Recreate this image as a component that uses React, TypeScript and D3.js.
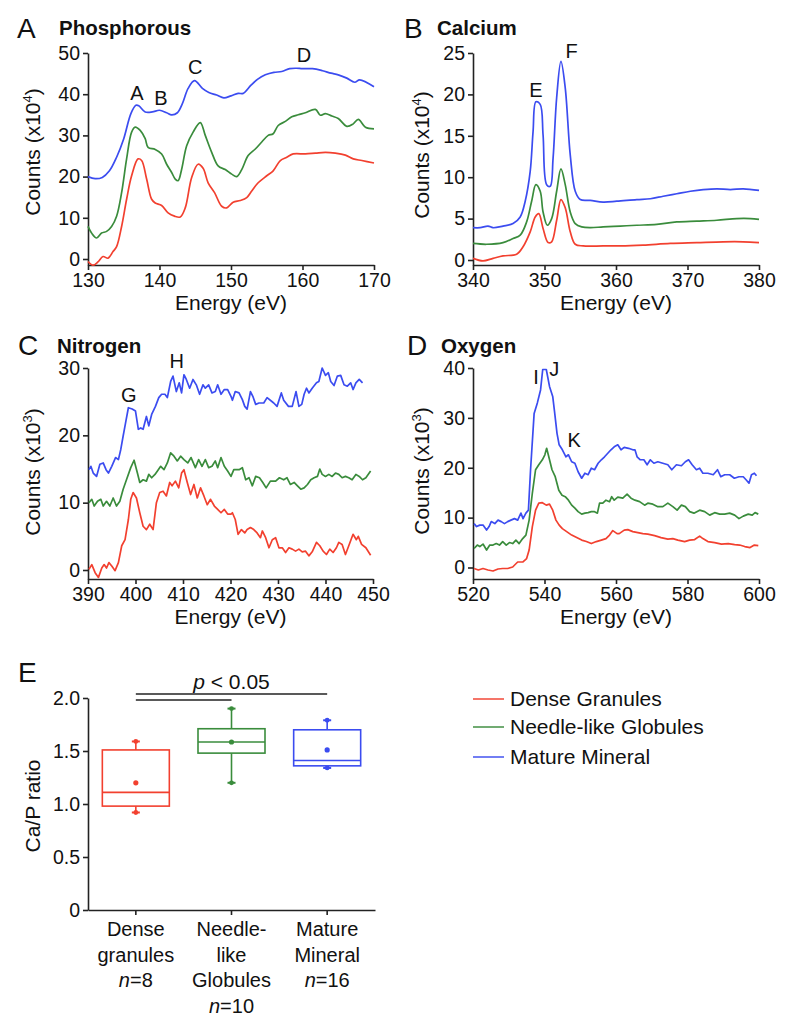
import React, { useEffect, useRef } from "react";
import * as d3 from "d3";

type Pt = [number, number];

// ---------- Series meta ----------
const seriesNames = ["Dense Granules", "Needle-like Globules", "Mature Mineral"];
const seriesColors = ["#f2402f", "#3a8c3c", "#3b4cf0"];

// ---------- Panel A: Phosphorous (x10^4) ----------
const phosDense: Pt[] = [[130,-0.6],[130.7,-1.5],[131.4,-0.7],[132.1,0.6],[132.8,0.2],[133.5,1.8],[134,3.0],[134.7,7.9],[135.4,14.5],[136.1,20.2],[137,24.3],[137.5,23.9],[138.2,19.4],[138.9,14.5],[139.4,13.6],[140.3,13.0],[141.2,11.2],[142.1,10.4],[142.9,10.2],[143.6,12.4],[144.5,19.8],[145.4,23.0],[146.1,22.0],[146.8,18.5],[147.7,16.1],[148.7,12.8],[149.4,12.4],[150.3,13.8],[151.3,14.2],[152.2,14.9],[152.9,16.5],[153.8,18.5],[155,20.2],[155.9,21.4],[156.9,23.9],[157.8,24.7],[158.7,25.5],[160.4,25.5],[161.8,25.7],[163.2,25.9],[164.6,25.7],[166,25.2],[167.1,24.3],[168.3,23.9],[170,23.3]];
const phosNeedle: Pt[] = [[130,7.9],[130.5,6.3],[131.2,5.1],[131.9,6.3],[132.6,6.7],[133.3,7.9],[134,10.4],[134.7,16.1],[135.4,24.3],[136.1,30.8],[136.6,32.0],[137.3,31.2],[138,29.2],[138.4,27.1],[139.4,26.6],[140.3,25.5],[141,23.0],[141.7,21.0],[142.2,19.4],[142.6,19.0],[143.1,21.8],[143.8,27.5],[144.7,30.8],[145.7,33.1],[146.4,30.0],[147.3,25.9],[148.2,22.6],[149.2,21.7],[150.1,20.6],[150.8,20.0],[151.5,21.7],[152.4,25.1],[153.4,26.7],[154.3,28.4],[155.2,30.0],[155.9,30.4],[156.6,32.4],[157.6,33.4],[158.5,34.5],[159.4,35.0],[160.4,35.5],[161.8,36.3],[162.5,34.9],[163.2,35.3],[164.1,34.7],[165,34.1],[166.2,32.2],[167.1,32.8],[167.8,33.9],[168.8,32.0],[170,31.6]];
const phosMature: Pt[] = [[130,20.0],[131,19.5],[132,19.8],[133,21.4],[134,24.7],[135,29.2],[136,35.3],[136.7,37.3],[137.1,37.2],[138,35.7],[139,35.7],[140,36.1],[141,35.5],[141.7,35.0],[142.5,35.5],[143.2,37.7],[144,41.4],[144.9,43.3],[146,41.4],[146.9,40.4],[148,39.8],[149,39.1],[150,39.6],[151,40.2],[151.7,40.2],[152.8,42.2],[153.7,43.6],[154.8,44.7],[156,45.3],[157.1,45.5],[158.2,46.2],[159.1,46.3],[160,46.2],[161.4,46.2],[162.8,45.7],[164,45.1],[165,44.7],[166.2,43.9],[167.3,42.9],[168,43.5],[170,41.8]];
const phosXTicks = [130, 140, 150, 160, 170];
const phosYTicks = [0, 10, 20, 30, 40, 50];
const phosPeaks: [string, number, number][] = [["A",136.85,38.6],["B",140.2,37.4],["C",145,44.9],["D",160.2,47.8]];

// ---------- Panel B: Calcium (x10^4) ----------
const calDense: Pt[] = [[340,0.2],[341.4,-0.1],[342.8,0.2],[344.2,0.5],[346.1,0.7],[347,1.6],[348,3.4],[348.7,5.2],[349.2,5.6],[349.8,3.8],[350.5,2.1],[351,2.2],[351.7,4.8],[352.3,7.3],[352.9,6.3],[353.6,3.4],[354.3,1.9],[355.4,1.7],[358.2,1.7],[360.6,1.7],[363.8,1.8],[367.6,2.0],[371.3,2.1],[375,2.2],[377.8,2.2],[380,2.1]];
const calNeedle: Pt[] = [[340,2.0],[341.9,1.9],[344.2,2.1],[345.6,2.6],[346.6,3.0],[347.5,4.6],[348.2,7.1],[348.8,9.1],[349.4,8.3],[349.8,5.8],[350.4,4.2],[351,5.0],[351.7,8.3],[352.3,11.0],[352.9,9.1],[353.6,5.8],[354.3,4.4],[355.2,4.0],[356.4,3.9],[358.2,4.0],[360.6,4.1],[362.9,4.2],[365.7,4.3],[368.5,4.6],[371.3,4.7],[374.1,4.8],[376.9,5.0],[378.8,5.0],[380,4.9]];
const calMature: Pt[] = [[340,3.9],[341,3.9],[342.1,4.1],[342.8,3.9],[344.2,4.1],[345.6,4.4],[346.6,5.2],[347.3,7.1],[348,10.7],[348.4,15.5],[348.8,19.1],[349.4,18.8],[349.8,15.1],[350.3,9.1],[350.8,8.9],[351.2,12.3],[351.7,19.6],[352.3,24.0],[352.9,20.8],[353.6,12.7],[354.3,8.3],[355,7.3],[356.4,7.2],[358.2,7.0],[360.1,7.1],[362.9,7.3],[364.8,7.4],[366.6,7.7],[368.5,8.0],[370.4,8.3],[372.2,8.5],[374.1,8.6],[376,8.5],[377.8,8.6],[380,8.4]];
const calXTicks = [340, 350, 360, 370, 380];
const calYTicks = [0, 5, 10, 15, 20, 25];
const calPeaks: [string, number, number][] = [["E",348.8,19.7],["F",353.8,24.4]];

// ---------- Panel C: Nitrogen (x10^3) ----------
const nitDense: Pt[] = [[390.2,0.1],[390.8,0.8],[391.5,-0.4],[392.2,-1.1],[392.9,0.3],[393.4,0.8],[393.9,0.3],[394.4,1.1],[395,0.6],[395.7,-0.1],[396.4,1.1],[397.1,3.6],[397.8,4.5],[398.5,7.5],[399,10.5],[399.5,11.5],[400.2,10.7],[400.9,8.5],[401.6,6.5],[402.3,6.0],[403,6.8],[403.7,6.0],[404.4,10.0],[405.1,11.5],[405.8,11.7],[406.5,11.0],[407.2,13.0],[407.7,12.5],[408.4,13.2],[409.1,12.2],[409.7,14.4],[410.2,14.9],[410.9,13.0],[411.6,11.2],[412.3,12.7],[413,10.7],[413.7,12.2],[414.4,11.0],[415.1,9.7],[415.8,10.5],[416.6,9.5],[417.3,9.0],[418,8.5],[418.7,9.0],[419.4,8.3],[420.1,8.3],[420.4,8.5],[421,7.5],[421.6,5.3],[422.3,6.0],[423,5.5],[423.5,6.0],[424.2,6.3],[424.9,6.0],[425.6,5.5],[426.3,4.8],[426.7,5.8],[427.4,4.8],[428.1,3.3],[428.8,4.5],[429.5,4.8],[430.2,3.3],[430.9,3.3],[431.6,2.6],[432.3,3.3],[433,3.1],[433.7,2.8],[434.4,3.1],[435.1,2.7],[435.8,2.8],[436.5,2.1],[437.2,2.7],[438.1,4.1],[438.8,3.6],[439.5,2.8],[440.2,2.3],[440.9,3.1],[441.6,2.6],[442.3,3.3],[442.8,4.1],[443.5,3.8],[444.2,2.3],[444.9,3.6],[445.8,5.3],[446.5,4.5],[446.9,5.0],[447.6,3.8],[448.5,3.3],[449.5,2.2]];
const nitNeedle: Pt[] = [[390.2,10.0],[390.8,10.5],[391.3,9.5],[392,10.2],[392.7,10.5],[393.2,9.5],[393.9,10.2],[394.6,9.5],[395.3,10.7],[396,9.5],[396.7,10.2],[397.4,12.0],[398.1,13.4],[399,15.2],[399.7,16.3],[400.4,14.4],[400.9,13.0],[401.6,13.4],[402.3,13.2],[402.8,14.2],[403.4,13.7],[404.1,14.2],[404.8,14.9],[405.3,15.4],[406,14.9],[406.7,15.9],[407.4,17.4],[408.1,16.9],[408.8,16.2],[409.5,16.9],[410.2,16.4],[411,15.9],[411.7,16.7],[412.6,15.2],[413.3,16.4],[414,15.4],[414.7,16.4],[415.4,15.2],[416.1,15.4],[416.8,16.2],[417.3,15.2],[418,16.7],[418.7,15.4],[419.4,14.7],[420.1,13.9],[420.7,14.9],[421.8,14.9],[422.5,15.2],[423.2,13.4],[423.9,13.7],[424.6,12.5],[425.3,13.9],[426.1,13.7],[426.8,13.0],[427.5,12.2],[428.4,13.2],[429.5,13.2],[430.3,13.7],[431.2,13.4],[431.9,13.7],[432.6,12.7],[433.4,13.0],[434.1,12.5],[434.8,12.0],[435.5,12.2],[436.2,12.7],[436.9,13.4],[437.6,13.7],[438.3,13.9],[438.8,15.0],[439.3,14.2],[440,13.9],[440.7,14.2],[441.4,13.9],[442.1,14.4],[442.8,14.2],[443.5,13.7],[444.2,13.9],[444.9,13.7],[445.6,13.4],[446.4,14.2],[447.1,13.9],[447.8,13.4],[448.5,13.7],[449.2,14.4],[449.5,14.7]];
const nitMature: Pt[] = [[390.2,14.9],[390.6,15.4],[391.1,14.4],[391.8,13.9],[392.5,15.7],[393.2,15.9],[393.8,14.9],[394.3,14.4],[395,15.4],[395.8,16.7],[396.4,16.4],[396.9,17.9],[397.4,19.9],[397.9,21.8],[398.5,24.1],[399.3,23.9],[400,23.6],[400.6,20.9],[401.1,21.1],[401.6,20.9],[402.3,22.8],[402.8,21.4],[403.4,23.1],[404.2,24.3],[404.9,25.6],[405.5,26.1],[406.2,26.1],[406.7,25.6],[407.4,28.0],[407.9,28.8],[408.6,26.5],[409.2,27.8],[409.7,26.3],[410.2,29.0],[410.7,28.3],[411.4,27.0],[412.1,28.3],[412.8,27.5],[413.5,26.1],[414.2,27.5],[414.7,27.0],[415.4,27.5],[416.1,26.3],[416.8,26.5],[417.3,27.5],[418,26.1],[418.7,26.8],[419.4,26.8],[420.1,25.8],[420.4,25.2],[421,26.5],[421.8,26.3],[422.5,25.3],[423,24.3],[423.5,23.9],[424.2,26.5],[424.7,25.8],[425.3,24.6],[426,24.8],[427,24.8],[427.7,25.6],[429.1,24.8],[429.8,24.3],[430.7,26.3],[431.2,25.2],[432.2,24.3],[433,24.3],[433.8,26.5],[434.4,24.3],[435,24.6],[435.5,26.1],[436,27.0],[436.5,26.3],[437.2,27.0],[438.1,27.8],[438.6,28.0],[439.3,30.0],[440,28.9],[440.6,29.3],[441.1,28.0],[441.8,27.4],[442.5,28.8],[443.2,28.9],[443.9,27.5],[444.6,27.3],[445.3,27.8],[445.8,26.8],[446.4,27.8],[447.1,28.3],[447.8,27.8]];
const nitXTicks = [390, 400, 410, 420, 430, 440, 450];
const nitYTicks = [0, 10, 20, 30];
const nitPeaks: [string, number, number][] = [["G",398.6,25.0],["H",408.7,30.0]];

// ---------- Panel D: Oxygen (x10^3) ----------
const oxyDense: Pt[] = [[520.3,-0.2],[521.5,-0.5],[522.8,-0.2],[524.2,-0.5],[525.6,-0.7],[527,-0.3],[528.3,-0.2],[529.7,-0.2],[531.1,0.1],[532.5,1.1],[533.9,1.1],[535,1.8],[535.7,3.5],[536.6,8.2],[537.5,11.5],[538.4,12.9],[539.4,13.0],[540.5,12.5],[541.4,12.7],[542.3,11.5],[543.2,9.5],[544.1,8.5],[545,7.8],[546.2,7.2],[547.6,6.5],[549,6.0],[550.4,5.5],[551.7,5.2],[553.1,4.8],[554.5,5.2],[555.9,5.5],[557.2,5.8],[558.2,6.5],[559.1,7.4],[560.3,6.8],[560.9,6.8],[562.3,7.5],[563.3,7.6],[564.7,7.2],[566.1,7.0],[567.5,6.8],[568.9,6.7],[570.8,6.4],[572.6,6.0],[574.5,5.7],[575.9,5.8],[577.3,5.5],[579.2,5.2],[580.6,5.5],[582,5.6],[583.4,6.3],[584.3,5.8],[585.7,5.2],[587.6,5.0],[589.5,4.7],[591.4,4.8],[593.2,4.6],[594.6,4.5],[596,4.2],[597.5,4.0],[598.7,4.5],[599.8,4.4]];
const oxyNeedle: Pt[] = [[520.3,3.8],[521.2,4.5],[521.9,4.2],[522.8,4.7],[523.8,3.5],[524.7,4.5],[525.6,4.5],[526.5,4.8],[527.4,4.5],[528.3,5.2],[529.3,4.5],[530.2,5.0],[531.1,4.8],[532,5.5],[532.9,4.8],[533.9,5.8],[534.8,6.5],[535.7,9.5],[536.6,14.9],[537.5,19.6],[538.4,20.6],[539.4,21.6],[540.1,22.6],[540.6,23.9],[541.2,22.2],[542.1,19.6],[543,18.2],[544,15.5],[544.9,14.5],[545.8,14.2],[546.7,13.5],[547.6,12.5],[548.5,11.9],[549.4,11.2],[550.4,10.7],[551.3,10.9],[552.2,11.0],[553.1,11.2],[554,11.2],[554.8,10.9],[555.4,12.9],[556.3,12.9],[557.2,13.5],[558.2,13.2],[558.8,14.2],[559.5,13.5],[560.5,14.1],[561.9,13.9],[563.1,14.7],[564.2,13.9],[565.3,13.5],[566.6,13.2],[568,12.5],[568.9,12.9],[570.3,12.7],[571.7,12.2],[573.1,12.2],[574.5,12.9],[575.9,12.2],[577.1,11.5],[578.3,12.5],[579.4,12.2],[580.6,11.2],[581.8,10.9],[583.4,11.5],[584.8,11.2],[586.2,10.5],[587.6,11.0],[589,10.7],[590.4,10.7],[591.8,10.9],[593.2,10.5],[594.4,9.8],[595.6,10.3],[597,10.7],[598.1,10.5],[598.9,11.0],[599.8,10.7]];
const oxyMature: Pt[] = [[520.3,8.8],[521,8.2],[521.9,8.5],[522.8,8.5],[523.8,7.5],[524.5,8.2],[525.1,9.2],[526.1,8.8],[527,9.5],[527.9,9.2],[528.8,8.8],[529.7,9.2],[530.6,9.5],[531.6,9.8],[532.5,9.5],[533.4,10.9],[534,9.8],[534.8,10.9],[535.5,11.5],[536.1,19.6],[537.1,30.9],[538,33.0],[538.9,35.6],[539.5,39.7],[540.5,39.7],[541.4,36.3],[542.3,34.3],[542.8,31.3],[543.5,26.9],[544.1,24.6],[545,23.6],[546,22.2],[546.7,22.6],[547.6,21.2],[548.5,20.9],[549.4,19.2],[550.4,17.9],[551.3,18.9],[552.2,18.6],[553.1,19.9],[554,19.6],[555,20.9],[555.9,21.6],[556.8,22.2],[557.7,22.9],[558.6,23.6],[559.5,24.2],[560.5,24.6],[561.4,23.6],[562.3,24.1],[563.5,23.9],[564.7,23.6],[565.3,23.6],[565.9,22.2],[566.8,21.6],[567.8,21.6],[568.7,20.6],[569.6,21.6],[570.6,20.9],[571.7,21.2],[573.1,20.9],[574.5,20.6],[575.6,19.6],[576.9,20.6],[578.3,20.4],[579.4,21.2],[580.3,21.6],[581.3,20.6],[582.5,19.6],[583.4,19.9],[584.3,18.9],[585.7,18.9],[587.2,18.6],[588.4,19.6],[589.3,18.2],[590.4,18.6],[591.8,18.6],[593.1,17.9],[594.4,18.2],[595.6,18.2],[596.5,17.5],[597.2,16.9],[597.9,18.6],[598.7,18.9],[599.3,18.4]];
const oxyXTicks = [520, 540, 560, 580, 600];
const oxyYTicks = [0, 10, 20, 30, 40];
const oxyPeaks: [string, number, number][] = [["I",537.6,36.8],["J",542.7,38.3],["K",548.3,24.2]];

// ---------- Panel E: Ca/P ratio box plot ----------
const boxCategories = ["Dense granules", "Needle-like Globules", "Mature Mineral"];
const boxLabelLines = [["Dense", "granules"], ["Needle-", "like", "Globules"], ["Mature", "Mineral"]];
const boxN = [8, 10, 16];
const boxWhiskerLow = [0.92, 1.2, 1.34];
const boxQ1 = [0.98, 1.48, 1.36];
const boxMedian = [1.11, 1.585, 1.41];
const boxQ3 = [1.51, 1.71, 1.7];
const boxWhiskerHigh = [1.59, 1.9, 1.79];
const boxMean = [1.2, 1.585, 1.51];
const ratioTicks = [0, 0.5, 1.0, 1.5, 2.0];

const FONT = "'Liberation Sans', Arial, Helvetica, sans-serif";

interface PanelCfg {
  letter: string;
  title: string;
  series: Pt[][];
  xDomain: [number, number];
  xTicks: number[];
  yTicks: number[];
  yTop: number;
  exp: string;
  peaks: [string, number, number][];
  left: number; right: number; yZero: number; yTopPx: number; axisY: number;
  curve: any;
  lblX: number; lblY: number;
  letterX: number; letterY: number; titleX: number; titleY: number;
}

const panels: PanelCfg[] = [
  { letter: "A", title: "Phosphorous", series: [phosDense, phosNeedle, phosMature], xDomain: [130, 170], xTicks: phosXTicks, yTicks: phosYTicks, yTop: 50, exp: "4", peaks: phosPeaks,
    left: 88, right: 374, yZero: 259, yTopPx: 53, axisY: 265, curve: d3.curveCatmullRom, lblX: 33, lblY: 152, letterX: 17, letterY: 38, titleX: 59, titleY: 35 },
  { letter: "B", title: "Calcium", series: [calDense, calNeedle, calMature], xDomain: [340, 380], xTicks: calXTicks, yTicks: calYTicks, yTop: 25, exp: "4", peaks: calPeaks,
    left: 473, right: 759, yZero: 260, yTopPx: 53, axisY: 265, curve: d3.curveCatmullRom, lblX: 422, lblY: 155, letterX: 404, letterY: 38, titleX: 437, titleY: 35 },
  { letter: "C", title: "Nitrogen", series: [nitDense, nitNeedle, nitMature], xDomain: [390, 450], xTicks: nitXTicks, yTicks: nitYTicks, yTop: 30, exp: "3", peaks: nitPeaks,
    left: 88, right: 373, yZero: 570, yTopPx: 368, axisY: 579, curve: d3.curveLinear, lblX: 33, lblY: 472, letterX: 18, letterY: 355, titleX: 57, titleY: 353 },
  { letter: "D", title: "Oxygen", series: [oxyDense, oxyNeedle, oxyMature], xDomain: [520, 600], xTicks: oxyXTicks, yTicks: oxyYTicks, yTop: 40, exp: "3", peaks: oxyPeaks,
    left: 473, right: 759, yZero: 567.5, yTopPx: 368, axisY: 579, curve: d3.curveLinear, lblX: 422, lblY: 471, letterX: 407, letterY: 355, titleX: 441, titleY: 353 },
];

function styleAxis(g: d3.Selection<SVGGElement, unknown, null, undefined>) {
  g.select(".domain").attr("stroke", "#222").attr("stroke-width", 1.6);
  g.selectAll(".tick line").attr("stroke", "#222").attr("stroke-width", 1.6);
  g.selectAll(".tick text").attr("fill", "#111").style("font-family", FONT).style("font-size", "19.5px");
}

export default function App() {
  const ref = useRef<SVGSVGElement | null>(null);

  useEffect(() => {
    document.body.style.margin = "0";
    const svg = d3.select(ref.current);
    svg.selectAll("*").remove();
    svg.append("rect").attr("width", 800).attr("height", 1029).attr("fill", "#fff");

    panels.forEach((p) => {
      const g = svg.append("g");
      const x = d3.scaleLinear().domain(p.xDomain).range([p.left, p.right]);
      const yBase = d3.scaleLinear().domain([0, p.yTop]).range([p.yZero, p.yTopPx]);
      const yMin = yBase.invert(p.axisY);
      const y = d3.scaleLinear().domain([yMin, p.yTop]).range([p.axisY, p.yTopPx]);

      const xa = g.append("g").attr("transform", `translate(0,${p.axisY})`)
        .call(d3.axisBottom(x).tickValues(p.xTicks).tickSize(5).tickSizeOuter(0).tickPadding(3).tickFormat(d3.format("d")));
      styleAxis(xa);
      const ya = g.append("g").attr("transform", `translate(${p.left},0)`)
        .call(d3.axisLeft(y).tickValues(p.yTicks).tickSize(5).tickSizeOuter(0).tickPadding(3).tickFormat(d3.format("d")));
      styleAxis(ya);

      const line = d3.line<Pt>().x((d) => x(d[0])).y((d) => y(d[1])).curve(p.curve);
      p.series.forEach((s, i) => {
        g.append("path").attr("d", line(s) as string).attr("fill", "none")
          .attr("stroke", seriesColors[i]).attr("stroke-width", 1.7).attr("stroke-linejoin", "round");
      });

      p.peaks.forEach(([t, px, py]) => {
        g.append("text").attr("x", x(px)).attr("y", y(py)).attr("text-anchor", "middle")
          .style("font-family", FONT).style("font-size", "20px").attr("fill", "#111").text(t);
      });

      // letter + title
      g.append("text").attr("x", p.letterX).attr("y", p.letterY).style("font-family", FONT)
        .style("font-size", "28px").attr("fill", "#111").text(p.letter);
      g.append("text").attr("x", p.titleX).attr("y", p.titleY).style("font-family", FONT)
        .style("font-size", "20.5px").style("font-weight", "bold").attr("fill", "#111").text(p.title);

      // x label
      g.append("text").attr("x", (p.left + p.right) / 2).attr("y", p.axisY + 45).attr("text-anchor", "middle")
        .style("font-family", FONT).style("font-size", "21px").attr("fill", "#111").text("Energy (eV)");

      // y label
      const yl = g.append("text").attr("transform", `translate(${p.lblX},${p.lblY}) rotate(-90)`)
        .attr("text-anchor", "middle").attr("dy", "0.35em")
        .style("font-family", FONT).style("font-size", "21px").attr("fill", "#111");
      yl.append("tspan").text("Counts (x10");
      yl.append("tspan").attr("dy", -8).style("font-size", "13px").text(p.exp);
      yl.append("tspan").attr("dy", 8).text(")");
    });

    // ---------- Panel E ----------
    const gE = svg.append("g");
    const xE = d3.scaleBand<string>().domain(boxCategories).range([88, 375]).padding(0);
    const yE = d3.scaleLinear().domain([0, 2]).range([910, 698]);
    const xaE = gE.append("g").attr("transform", "translate(0,910)")
      .call(d3.axisBottom(xE).tickSize(5).tickSizeOuter(0).tickFormat(() => ""));
    styleAxis(xaE);
    const yaE = gE.append("g").attr("transform", "translate(88,0)")
      .call(d3.axisLeft(yE).tickValues(ratioTicks).tickSize(5).tickSizeOuter(0).tickPadding(3)
        .tickFormat((d: any) => (d === 0 ? "0" : d3.format(".1f")(d))));
    styleAxis(yaE);

    const bw = 67;
    const capW = 8;
    boxCategories.forEach((c, i) => {
      const cx = (xE(c) as number) + xE.bandwidth() / 2;
      const col = seriesColors[i];
      const gb = gE.append("g").attr("stroke", col).attr("stroke-width", 1.6).attr("fill", "none");
      gb.append("line").attr("x1", cx).attr("x2", cx).attr("y1", yE(boxQ3[i])).attr("y2", yE(boxWhiskerHigh[i]));
      gb.append("line").attr("x1", cx).attr("x2", cx).attr("y1", yE(boxQ1[i])).attr("y2", yE(boxWhiskerLow[i]));
      [boxWhiskerHigh[i], boxWhiskerLow[i]].forEach((v) => {
        gb.append("line").attr("x1", cx - capW / 2).attr("x2", cx + capW / 2).attr("y1", yE(v)).attr("y2", yE(v)).attr("stroke-width", 2);
        gb.append("circle").attr("cx", cx).attr("cy", yE(v)).attr("r", 2.4).attr("fill", col).attr("stroke", "none");
      });
      gb.append("rect").attr("x", cx - bw / 2).attr("y", yE(boxQ3[i])).attr("width", bw)
        .attr("height", yE(boxQ1[i]) - yE(boxQ3[i])).attr("fill", "#fff");
      gb.append("line").attr("x1", cx - bw / 2).attr("x2", cx + bw / 2).attr("y1", yE(boxMedian[i])).attr("y2", yE(boxMedian[i]));
      gb.append("circle").attr("cx", cx).attr("cy", yE(boxMean[i])).attr("r", 2.6).attr("fill", col).attr("stroke", "none");

      // category labels
      const lines = boxLabelLines[i];
      lines.forEach((t, k) => {
        gE.append("text").attr("x", cx).attr("y", 936 + k * 25.5).attr("text-anchor", "middle")
          .style("font-family", FONT).style("font-size", "20px").attr("fill", "#111").text(t);
      });
      const nt = gE.append("text").attr("x", cx).attr("y", 936 + lines.length * 25.5).attr("text-anchor", "middle")
        .style("font-family", FONT).style("font-size", "20px").attr("fill", "#111");
      nt.append("tspan").style("font-style", "italic").text("n");
      nt.append("tspan").text("=" + boxN[i]);
    });

    // significance bars
    const c0 = (xE(boxCategories[0]) as number) + xE.bandwidth() / 2;
    const c1 = (xE(boxCategories[1]) as number) + xE.bandwidth() / 2;
    const c2 = (xE(boxCategories[2]) as number) + xE.bandwidth() / 2;
    gE.append("line").attr("x1", c0).attr("x2", c2).attr("y1", 694).attr("y2", 694).attr("stroke", "#222").attr("stroke-width", 1.6);
    gE.append("line").attr("x1", c0).attr("x2", c1).attr("y1", 700).attr("y2", 700).attr("stroke", "#222").attr("stroke-width", 1.6);
    const pt = gE.append("text").attr("x", c1).attr("y", 689).attr("text-anchor", "middle")
      .style("font-family", FONT).style("font-size", "21px").attr("fill", "#111");
    pt.append("tspan").style("font-style", "italic").text("p");
    pt.append("tspan").text(" < 0.05");

    gE.append("text").attr("x", 18).attr("y", 682).style("font-family", FONT).style("font-size", "28px").attr("fill", "#111").text("E");
    gE.append("text").attr("transform", "translate(33,806) rotate(-90)").attr("text-anchor", "middle").attr("dy", "0.35em")
      .style("font-family", FONT).style("font-size", "21px").attr("fill", "#111").text("Ca/P ratio");

    // legend
    const lg = svg.append("g");
    seriesNames.forEach((n, i) => {
      const ly = [699, 727, 757][i];
      lg.append("line").attr("x1", 473).attr("x2", 504).attr("y1", ly).attr("y2", ly)
        .attr("stroke", seriesColors[i]).attr("stroke-width", 1.8).attr("opacity", 0.8);
      lg.append("text").attr("x", 510).attr("y", ly).attr("dy", "0.35em")
        .style("font-family", FONT).style("font-size", "21px").attr("fill", "#111").text(n);
    });
  }, []);

  return <svg ref={ref} width={800} height={1029} style={{ display: "block" }} />;
}
